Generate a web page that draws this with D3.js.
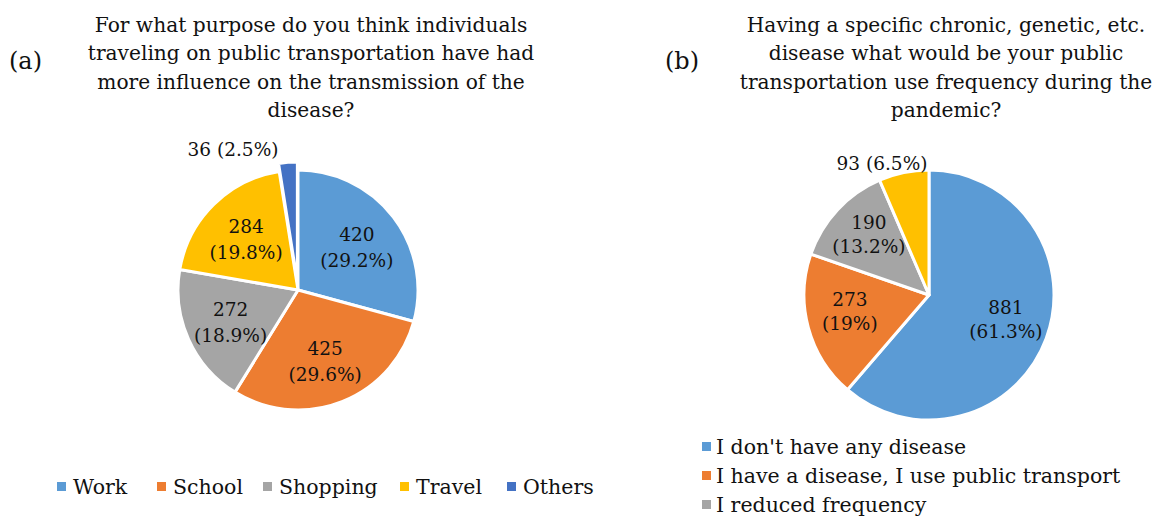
<!DOCTYPE html>
<html>
<head>
<meta charset="utf-8">
<script src="https://cdn.jsdelivr.net/npm/d3@7"></script>
<style>
  body { margin: 0; background: #fff; }
  svg text { font-family: "DejaVu Serif", "Liberation Serif", serif; fill: #111; }
</style>
</head>
<body>
<svg id="chart" width="1156" height="516"></svg>
<script>
// ---- data ----
var purposeNames = ["Work", "School", "Shopping", "Travel", "Others"];
var purposeCounts = [420, 425, 272, 284, 36];
var purposePct = ["29.2%", "29.6%", "18.9%", "19.8%", "2.5%"];

var freqNames = ["I don't have any disease", "I have a disease, I use public transport", "I reduced frequency", "I stopped using"];
var freqCounts = [881, 273, 190, 93];
var freqPct = ["61.3%", "19%", "13.2%", "6.5%"];

var colors = ["#5B9BD5", "#ED7D31", "#A5A5A5", "#FFC000", "#4472C4"];

var titleA = ["For what purpose do you think individuals",
              "traveling on public transportation have had",
              "more influence on the transmission of the",
              "disease?"];
var titleB = ["Having a specific chronic, genetic, etc.",
              "disease what would be your public",
              "transportation use frequency during the",
              "pandemic?"];

var svg = d3.select("#chart");
var fs = 18.5;

function drawTitle(lines, cx, letter, lx) {
    var g = svg.append("g");
    g.selectAll("text.t")
      .data(lines)
      .enter()
      .append("text")
      .attr("x", cx)
      .attr("y", function(d, i) { return 32 + i * 28.3; })
      .attr("text-anchor", "middle")
      .attr("font-size", "20.2px")
      .text(function(d) { return d; });
    g.append("text")
      .attr("x", lx)
      .attr("y", 69)
      .attr("font-size", "24px")
      .text(letter);
}

drawTitle(titleA, 311, "(a)", 9);
drawTitle(titleB, 946, "(b)", 665);

// pie helper
function drawPie(counts, pcts, cx, cy, r, labelR, gap, outside, explodeIdx) {
    var pie = d3.pie().sort(null).value(function(d) { return d; });
    var arcs = pie(counts);
    var arc = d3.arc().innerRadius(0).outerRadius(r);
    var lab = d3.arc().innerRadius(labelR).outerRadius(labelR);
    var g = svg.append("g").attr("transform", "translate(" + cx + "," + cy + ")");

    g.selectAll("path")
      .data(arcs)
      .enter()
      .append("path")
      .attr("d", arc)
      .attr("fill", function(d, i) { return colors[i]; })
      .attr("stroke", "#fff")
      .attr("stroke-width", 3)
      .attr("stroke-linejoin", "round")
      .attr("transform", function(d, i) {
          if (i !== explodeIdx) return null;
          var a = (d.startAngle + d.endAngle) / 2;
          return "translate(" + (8 * Math.sin(a)) + "," + (-8 * Math.cos(a)) + ")";
      });

    arcs.forEach(function(d, i) {
        if (outside[i]) {
            g.append("text")
              .attr("x", outside[i][0])
              .attr("y", outside[i][1])
              .attr("text-anchor", "middle")
              .attr("font-size", fs + "px")
              .text(counts[i] + " (" + pcts[i] + ")");
        } else {
            var c = lab.centroid(d);
            var t = g.append("text")
              .attr("text-anchor", "middle")
              .attr("font-size", fs + "px");
            t.append("tspan").attr("x", c[0]).attr("y", c[1] - gap[0]).text(counts[i]);
            t.append("tspan").attr("x", c[0]).attr("y", c[1] + gap[1]).text("(" + pcts[i] + ")");
        }
    });
}

drawPie(purposeCounts, purposePct, 298, 290, 120, 74, [4, 22],
        [null, null, null, null, [-65, -134]], 4);
drawPie(freqCounts, freqPct, 929, 295, 125, 82, [10, 14],
        [null, null, null, [-47, -125]], -1);

// legend (a) - horizontal
var legA = svg.append("g");
var legAx = [57, 157, 263, 400, 507];
legA.selectAll("rect")
  .data(purposeNames)
  .enter()
  .append("rect")
  .attr("x", function(d, i) { return legAx[i]; })
  .attr("y", 482)
  .attr("width", 9).attr("height", 9)
  .attr("fill", function(d, i) { return colors[i]; });
legA.selectAll("text")
  .data(purposeNames)
  .enter()
  .append("text")
  .attr("x", function(d, i) { return legAx[i] + 16; })
  .attr("y", 494)
  .attr("font-size", "20.5px")
  .text(function(d) { return d; });

// legend (b) - vertical, cut at the bottom edge like the original
var legB = svg.append("g");
var shown = freqNames.slice(0, 3);
legB.selectAll("rect")
  .data(shown)
  .enter()
  .append("rect")
  .attr("x", 702)
  .attr("y", function(d, i) { return 442 + i * 29; })
  .attr("width", 9).attr("height", 9)
  .attr("fill", function(d, i) { return colors[i]; });
legB.selectAll("text")
  .data(shown)
  .enter()
  .append("text")
  .attr("x", 716)
  .attr("y", function(d, i) { return 454 + i * 29; })
  .attr("font-size", "20.5px")
  .text(function(d) { return d; });
</script>
</body>
</html>
